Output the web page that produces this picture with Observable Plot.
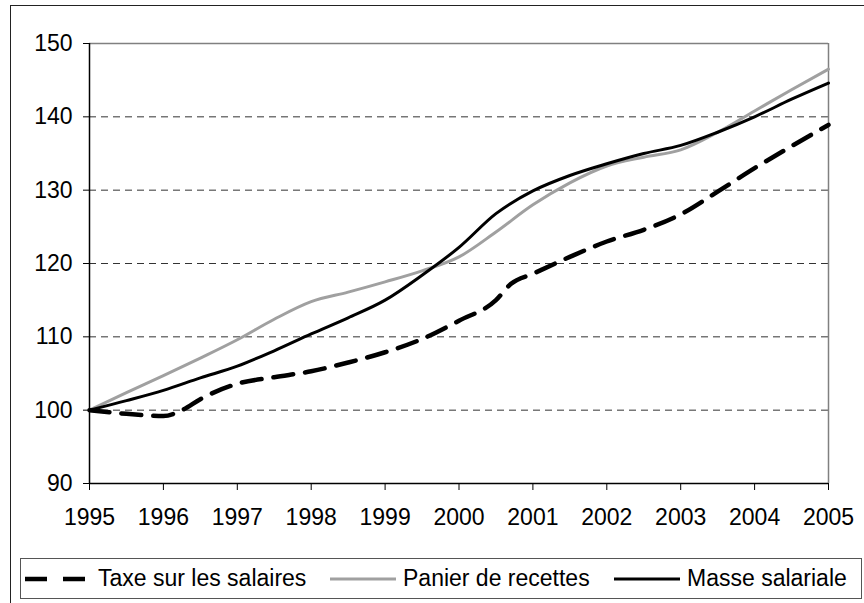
<!DOCTYPE html>
<html>
<head>
<meta charset="utf-8">
<script src="https://cdn.jsdelivr.net/npm/d3@7"></script>
<script src="https://cdn.jsdelivr.net/npm/@observablehq/plot@0.6"></script>
<style>
  html, body { margin: 0; padding: 0; background: #fff; overflow: hidden; }
  body { width: 864px; height: 603px; position: relative; font-family: "Liberation Sans", Arial, sans-serif; }
  #frame { position: absolute; left: 10px; top: 5px; width: 900px; height: 700px; border: 1.5px solid #222; box-sizing: border-box; pointer-events: none; }
  #chart { position: absolute; left: 0; top: 0; }
  #legend { position: absolute; left: 20px; top: 558px; width: 842px; height: 41px; border: 1px solid #555; box-sizing: border-box; background: #fff; }
  .item { position: absolute; top: 0; height: 39px; display: flex; align-items: center; font-size: 23px; color: #000; white-space: nowrap; }
  .item svg { margin-right: 7px; }
</style>
</head>
<body>
<div id="chart"></div>
<div id="legend"></div>
<div id="frame"></div>
<script>
// ---- Data (index, 1995 = 100) ----
const yearsPanier = [1995, 1995.5, 1996, 1996.5, 1997, 1997.5, 1998, 1998.5, 1999, 1999.5, 2000, 2000.5, 2001, 2001.5, 2002, 2002.5, 2003, 2003.5, 2004, 2004.5, 2005];
const panier      = [100, 102.4, 104.7, 107.1, 109.6, 112.4, 114.8, 116.1, 117.5, 119.0, 120.9, 124.3, 128.0, 131.0, 133.3, 134.5, 135.5, 137.9, 140.8, 143.7, 146.5];

const yearsMasse  = [1995, 1995.5, 1996, 1996.5, 1997, 1997.5, 1998, 1998.5, 1999, 1999.5, 2000, 2000.5, 2001, 2001.5, 2002, 2002.5, 2003, 2003.5, 2004, 2004.5, 2005];
const masse       = [100, 101.3, 102.7, 104.4, 106.0, 108.1, 110.4, 112.6, 115.0, 118.4, 122.2, 126.8, 129.9, 132.0, 133.6, 135.0, 136.1, 137.9, 140.0, 142.4, 144.6];

const yearsTaxe   = [1995, 1995.5, 1996, 1996.25, 1996.5, 1997, 1997.5, 1998, 1998.5, 1999, 1999.5, 2000, 2000.5, 2000.7, 2001, 2001.5, 2002, 2002.5, 2003, 2003.5, 2004, 2004.5, 2005];
const taxe        = [100, 99.5, 99.2, 100.0, 101.5, 103.6, 104.5, 105.3, 106.5, 107.9, 109.7, 112.2, 115.0, 117.2, 118.6, 120.9, 123.0, 124.6, 126.7, 129.8, 133.0, 136.0, 138.9];

const xTicks = [1995, 1996, 1997, 1998, 1999, 2000, 2001, 2002, 2003, 2004, 2005];
const yTicks = [90, 100, 110, 120, 130, 140, 150];
const gridValues = [100, 110, 120, 130, 140];

const seriesNames = ["Taxe sur les salaires", "Panier de recettes", "Masse salariale"];

const toRows = (xs, vs) => xs.map((x, i) => ({x, v: vs[i]}));
const rowsTaxe = toRows(yearsTaxe, taxe);
const rowsPanier = toRows(yearsPanier, panier);
const rowsMasse = toRows(yearsMasse, masse);

const chart = Plot.plot({
  width: 864,
  height: 550,
  marginLeft: 89,
  marginRight: 36,
  marginTop: 43,
  marginBottom: 67,
  style: { fontFamily: "'Liberation Sans', Arial, sans-serif", fontSize: "23px", color: "#000", background: "transparent" },
  x: { domain: [1995, 2005], ticks: xTicks, tickFormat: d => String(d), tickSize: 7, tickPadding: 18, label: null },
  y: { domain: [90, 150], ticks: yTicks, tickSize: 6, tickPadding: 11, label: null },
  marks: [
    Plot.ruleY(gridValues, { stroke: "#333", strokeWidth: 1, strokeDasharray: "7,5" }),
    Plot.ruleY([150], { stroke: "#808080", strokeWidth: 1.5 }),
    Plot.ruleX([2005], { stroke: "#808080", strokeWidth: 1.5 }),
    Plot.line(rowsPanier, { x: "x", y: "v", stroke: "#a0a0a0", strokeWidth: 3, curve: "monotone-x" }),
    Plot.line(rowsMasse, { x: "x", y: "v", stroke: "#000", strokeWidth: 3, curve: "monotone-x" }),
    Plot.line(rowsTaxe, { x: "x", y: "v", stroke: "#000", strokeWidth: 4.5, strokeDasharray: "20,12", curve: "monotone-x" }),
    Plot.ruleX([1995], { stroke: "#000", strokeWidth: 1.5 }),
    Plot.ruleY([90], { stroke: "#000", strokeWidth: 1.5 }),
    Plot.axisX({ ticks: xTicks, tickFormat: d => String(d), tickSize: 7, tickPadding: 18, stroke: "#000", fontSize: 23 }),
    Plot.axisY({ ticks: yTicks, tickSize: 6, tickPadding: 11, stroke: "#000", fontSize: 23 })
  ]
});
document.getElementById("chart").appendChild(chart);

// ---- Legend ----
const legendItems = [
  { name: seriesNames[0], left: 4, w: 66, stroke: "#000", width: 4.5, dash: "22,16" },
  { name: seriesNames[1], left: 309, w: 66, stroke: "#a0a0a0", width: 3, dash: null },
  { name: seriesNames[2], left: 593, w: 66, stroke: "#000", width: 3, dash: null }
];
const legend = document.getElementById("legend");
for (const it of legendItems) {
  const div = document.createElement("div");
  div.className = "item";
  div.style.left = it.left + "px";
  const svg = `<svg width="${it.w}" height="10"><line x1="0" x2="${it.w}" y1="5" y2="5" stroke="${it.stroke}" stroke-width="${it.width}" ${it.dash ? `stroke-dasharray="${it.dash}"` : ""}/></svg>`;
  div.innerHTML = svg + `<span>${it.name}</span>`;
  legend.appendChild(div);
}
</script>
</body>
</html>
